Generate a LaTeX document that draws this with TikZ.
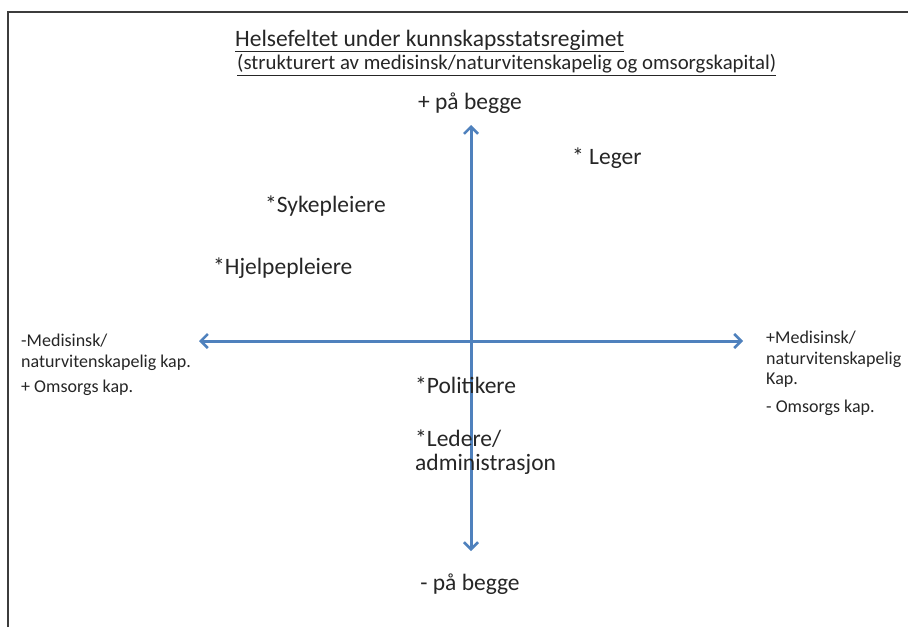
\documentclass[tikz,border=0pt]{standalone}
\usepackage{fontspec}
\setmainfont{Carlito}
\usetikzlibrary{arrows.meta}
\definecolor{axisblue}{RGB}{79,129,189}
\definecolor{framegray}{RGB}{60,60,60}
\tikzset{
  px/.style={x=1pt,y=-1pt},
  axisline/.style={draw=axisblue,line width=3pt,{Straight Barb[length=7pt,width=14pt,line width=2.5pt]}-{Straight Barb[length=7pt,width=14pt,line width=2.5pt]}},
  biglabel/.style={font=\fontsize{23.5}{24}\selectfont,inner sep=0pt,text=black!85},
  smalllabel/.style={font=\fontsize{18}{20.5}\selectfont,inner sep=0pt,text=black!85,align=left},
  titlelabel/.style={font=\fontsize{23.5}{25}\selectfont,inner sep=0pt,text=black!85},
  subtitlelabel/.style={font=\fontsize{20.8}{23}\selectfont,inner sep=0pt,text=black!85}
}
\begin{document}
\begin{tikzpicture}[px]
\useasboundingbox (0,0) rectangle (908,627);
\fill[white] (0,0) rectangle (908,627);
% frame
\draw[framegray,line width=2pt] (8,627) -- (8,12) -- (908,12);
% titles
\node[titlelabel,anchor=west] (title) at (235,41) {\underline{Helsefeltet under kunnskapsstatsregimet}};
\node[subtitlelabel,anchor=west] (subtitle) at (237,65) {\underline{(strukturert av medisinsk/naturvitenskapelig og omsorgskapital)}};
% axes
\coordinate (top) at (471,125);
\coordinate (bottom) at (471,551);
\coordinate (left) at (199,341);
\coordinate (right) at (743,341);
\draw[axisline] (left) -- (right);
\draw[axisline] (bottom) -- (top);
% axis labels
\node[biglabel] (plus) at (470,103) {+ på begge};
\node[biglabel] (minus) at (470,584) {- på begge};
\node[smalllabel,anchor=north west] (leftlab) at (21,334) {-Medisinsk/\\naturvitenskapelig kap.};
\node[smalllabel,anchor=west] (leftlab2) at (21,388) {+ Omsorgs kap.};
\node[smalllabel,anchor=north west] (rightlab) at (766,331) {+Medisinsk/\\naturvitenskapelig\\Kap.};
\node[smalllabel,anchor=west] (rightlab2) at (766,408) {- Omsorgs kap.};
% groups
\node[biglabel,anchor=west] (leger) at (572,158) {* Leger};
\node[biglabel,anchor=west] (syk) at (265,206) {*Sykepleiere};
\node[biglabel,anchor=west] (hjelp) at (213,268) {*Hjelpepleiere};
\node[biglabel,anchor=west] (pol) at (415,385) {*Politikere};
\node[biglabel,anchor=north west,align=left] (led) at (415,430) {*Ledere/\\administrasjon};
\end{tikzpicture}
\end{document}
